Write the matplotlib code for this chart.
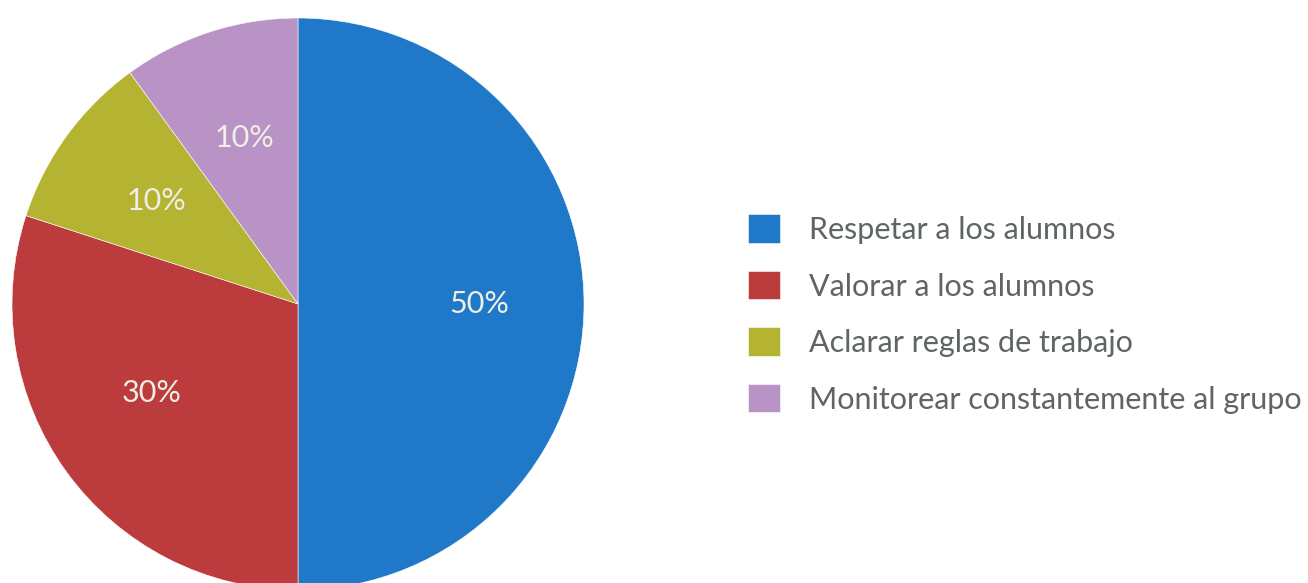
import matplotlib.pyplot as plt

# Datos del gráfico
categorias = ['Respetar a los alumnos', 'Valorar a los alumnos',
              'Aclarar reglas de trabajo', 'Monitorear constantemente al grupo']
valores = [50, 30, 10, 10]
colores = ['#1f78c8', '#bc3b3d', '#b5b332', '#b993c5']

plt.rcParams['font.family'] = ['Lato', 'DejaVu Sans']

fig = plt.figure(figsize=(13.08, 5.83), dpi=100)
ax = fig.add_axes([12 / 1308, -7 / 583, 572 / 1308, 572 / 583])

wedges, textos, autotextos = ax.pie(
    valores, colors=colores, startangle=90, counterclock=False,
    autopct='%d%%', pctdistance=0.61,
    wedgeprops={'edgecolor': 'white', 'linewidth': 0.4},
    textprops={'color': '#f0eee6', 'fontsize': 22})
# pequeños ajustes de las etiquetas
x, y = autotextos[0].get_position()
autotextos[0].set_position((x * 1.04, y))
x, y = autotextos[1].get_position()
autotextos[1].set_position((x * 1.04, y * 0.87))
ax.set_aspect('equal')
ax.set_xlim(-1, 1)
ax.set_ylim(-1, 1)

fig.legend(wedges, categorias, loc='center left',
           bbox_to_anchor=(748 / 1308, 1 - 314 / 583),
           frameon=False, fontsize=22, labelcolor='#5f6466',
           handlelength=1.05, handleheight=1.05, handletextpad=0.95,
           labelspacing=0.88, borderpad=0, borderaxespad=0)

fig.savefig('out.png', dpi=100)
